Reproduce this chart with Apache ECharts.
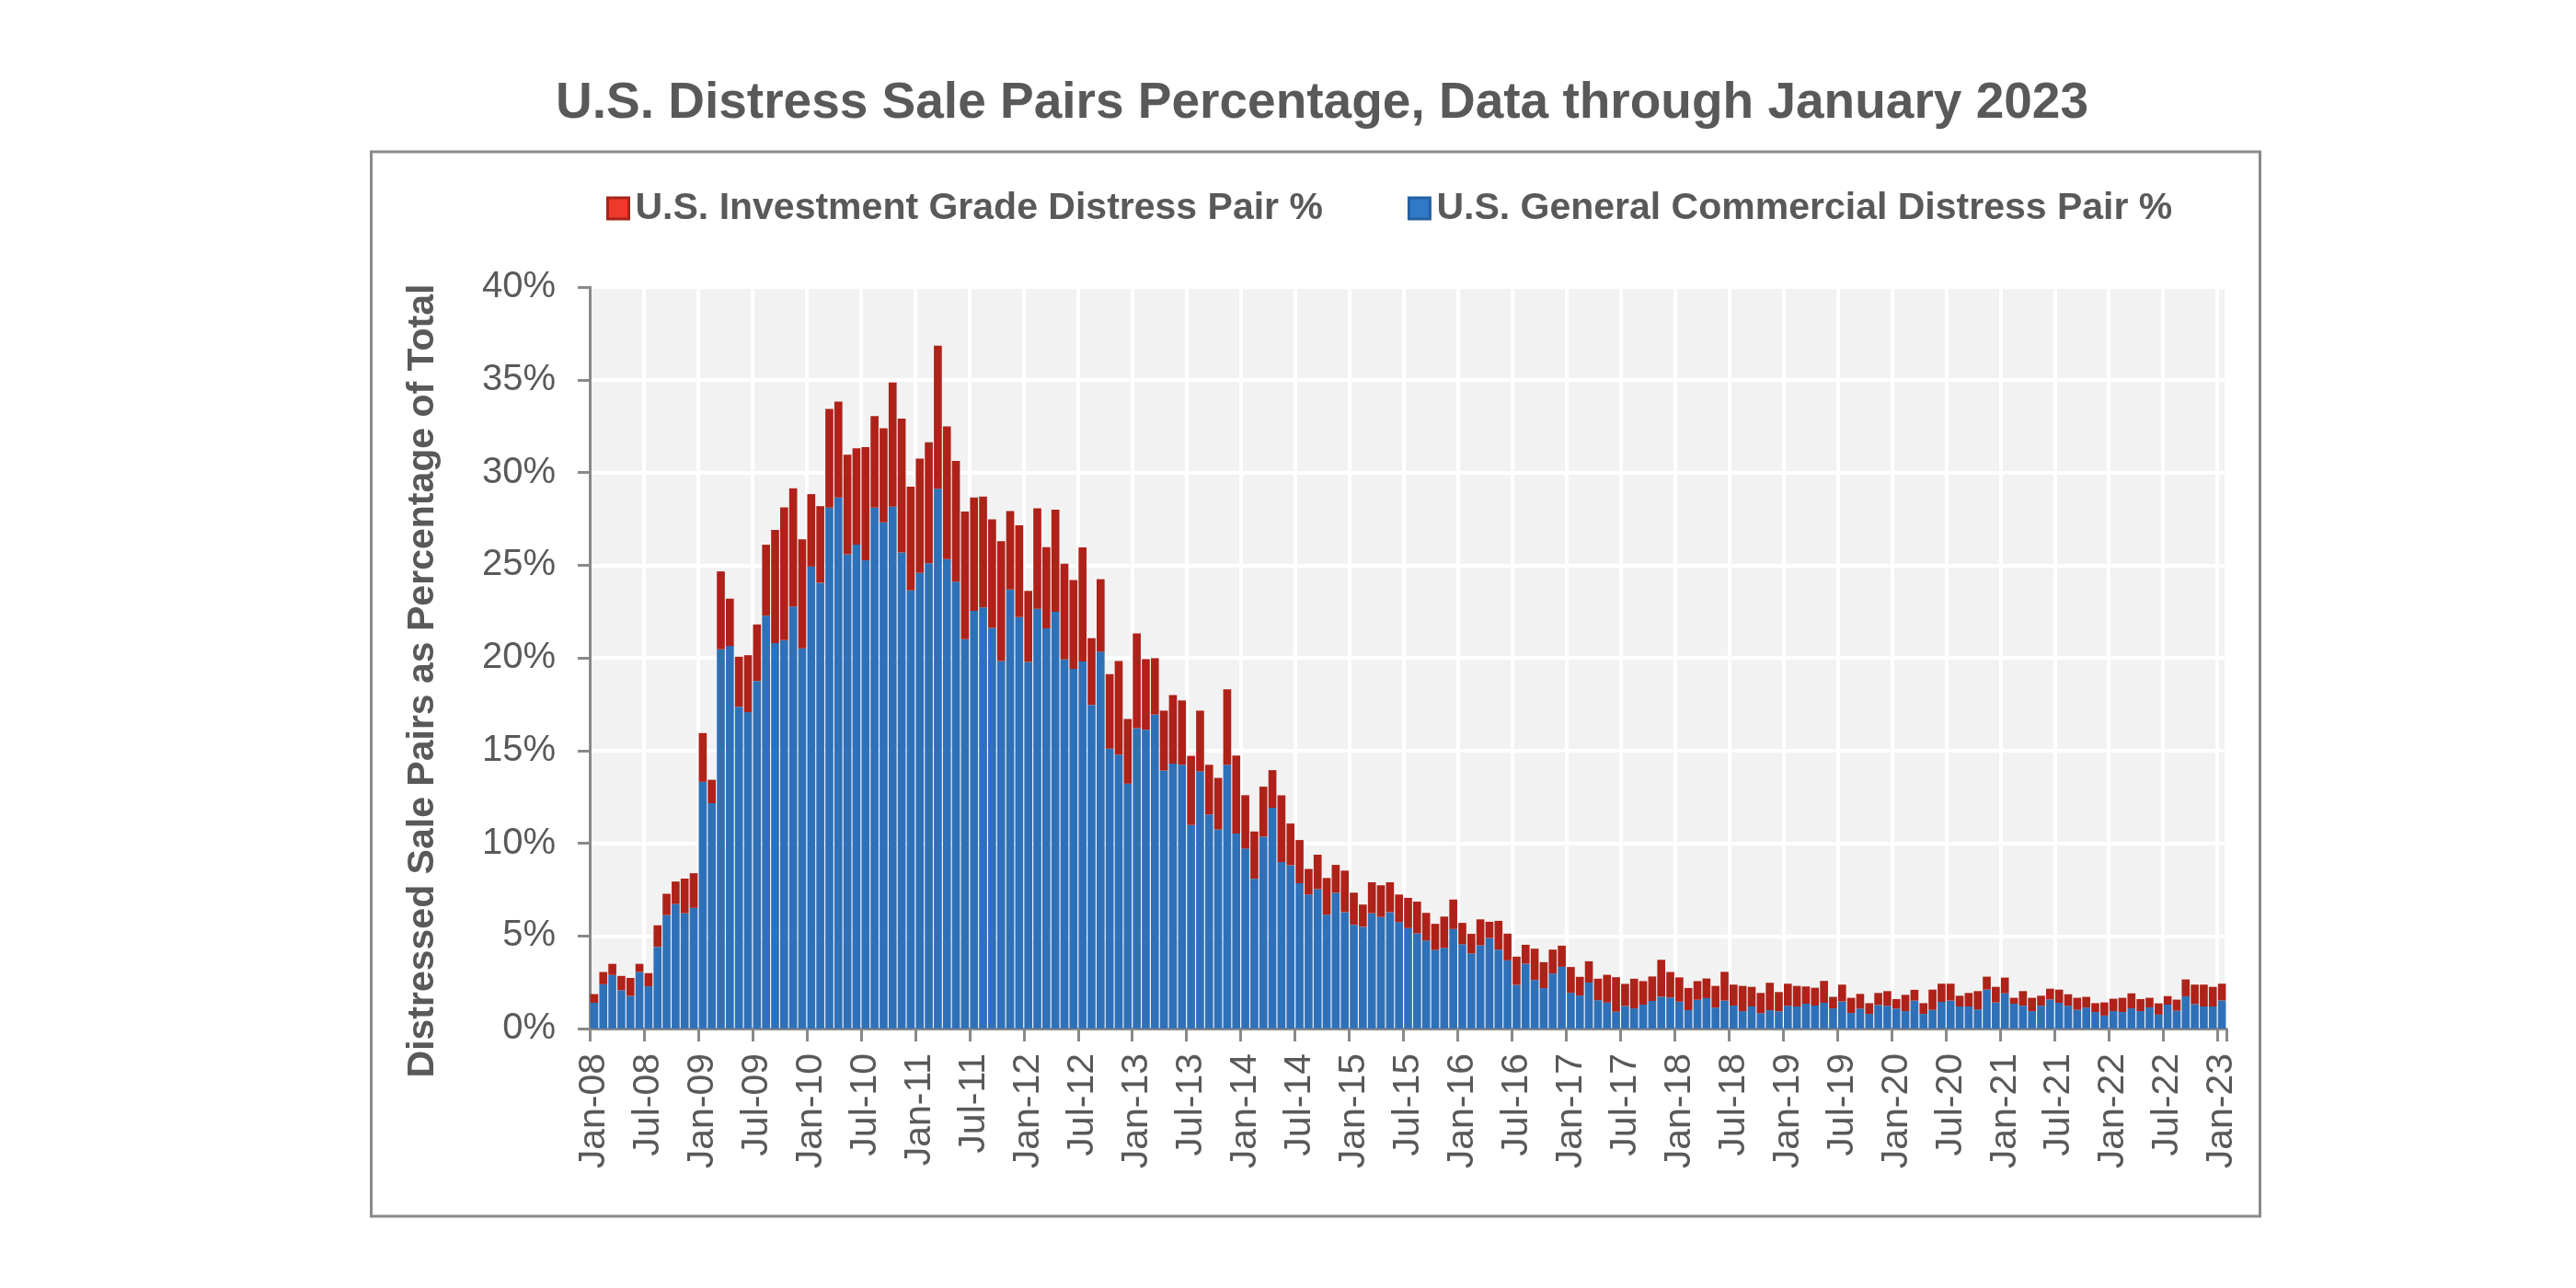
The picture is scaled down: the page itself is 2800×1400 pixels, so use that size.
<!DOCTYPE html>
<html>
<head>
<meta charset="utf-8">
<script src="https://cdn.jsdelivr.net/npm/echarts@6/dist/echarts.min.js"></script>
<style>html,body{margin:0;padding:0;background:#fff}#c{width:2800px;height:1400px}</style>
</head>
<body>
<div id="c"></div>
<script>
// ---- data ----
const monthNames = ['Jan','Feb','Mar','Apr','May','Jun','Jul','Aug','Sep','Oct','Nov','Dec'];
const firstYear = 2008;
const monthCount = 181; // Jan-08 .. Jan-23
const categories = [];
for (let i = 0; i < monthCount; i++) {
  const y = firstYear + Math.floor(i / 12);
  categories.push(monthNames[i % 12] + '-' + String(y % 100).padStart(2, '0'));
}

const generalCommercialPct = [
  1.39, 2.39, 2.89, 2.07, 1.76, 3.05, 2.28, 4.41, 6.12, 6.72, 6.22, 6.51,
  13.31, 12.16, 20.46, 20.64, 17.36, 17.07, 18.75, 22.27, 20.80, 20.96, 22.77, 20.51,
  24.92, 24.05, 28.10, 28.65, 25.58, 26.10, 25.26, 28.10, 27.31, 28.15, 25.68, 23.63,
  24.58, 25.10, 29.12, 25.32, 24.11, 21.01, 22.53, 22.72, 21.61, 19.83, 23.69, 22.19,
  19.77, 22.64, 21.59, 22.48, 19.91, 19.41, 19.80, 17.46, 20.33, 15.10, 14.78, 13.21,
  16.20, 16.12, 16.94, 13.92, 14.29, 14.23, 10.98, 13.87, 11.55, 10.74, 14.23, 10.52,
  9.71, 8.08, 10.35, 11.91, 8.98, 8.81, 7.84, 7.23, 7.52, 6.14, 7.32, 6.28,
  5.60, 5.49, 6.22, 6.02, 6.28, 5.74, 5.42, 5.13, 4.75, 4.24, 4.35, 5.37,
  4.55, 4.05, 4.49, 4.88, 4.26, 3.68, 2.36, 3.50, 2.62, 2.18, 2.97, 3.33,
  1.93, 1.78, 2.48, 1.53, 1.40, 0.91, 1.22, 1.09, 1.29, 1.49, 1.72, 1.67,
  1.45, 0.99, 1.55, 1.64, 1.13, 1.51, 1.24, 0.94, 1.19, 0.83, 0.99, 0.93,
  1.23, 1.19, 1.34, 1.24, 1.39, 1.09, 1.46, 0.84, 1.08, 0.79, 1.27, 1.23,
  1.08, 0.94, 1.51, 0.79, 1.01, 1.44, 1.51, 1.19, 1.19, 1.03, 2.10, 1.41,
  1.90, 1.34, 1.23, 0.94, 1.23, 1.57, 1.39, 1.23, 1.01, 1.13, 0.89, 0.70,
  0.94, 0.89, 1.09, 0.94, 1.14, 0.75, 1.29, 0.96, 1.74, 1.32, 1.19, 1.19,
  1.52
];

const investmentGradePct = [
  0.47, 0.66, 0.60, 0.77, 0.97, 0.44, 0.71, 1.16, 1.15, 1.21, 1.87, 1.87,
  2.63, 1.26, 4.20, 2.55, 2.70, 3.07, 3.05, 3.83, 6.10, 7.16, 6.38, 5.88,
  3.91, 4.13, 5.33, 5.17, 5.38, 5.20, 6.10, 4.94, 5.07, 6.70, 7.22, 5.60,
  6.17, 6.52, 7.72, 7.16, 6.51, 6.88, 6.12, 5.98, 5.86, 6.46, 4.22, 4.96,
  3.84, 5.43, 4.38, 5.51, 5.17, 4.78, 6.15, 3.60, 3.91, 4.02, 5.05, 3.49,
  5.12, 3.81, 3.04, 3.23, 3.70, 3.47, 3.73, 3.28, 2.68, 2.78, 4.07, 4.21,
  2.88, 2.55, 2.70, 2.03, 3.60, 2.25, 2.33, 1.38, 1.86, 1.98, 1.51, 2.24,
  1.73, 1.20, 1.67, 1.71, 1.61, 1.49, 1.63, 1.72, 1.49, 1.41, 1.69, 1.59,
  1.15, 1.06, 1.40, 0.88, 1.55, 1.44, 1.52, 1.02, 1.69, 1.40, 1.29, 1.14,
  1.39, 1.01, 1.15, 1.16, 1.50, 1.86, 1.19, 1.60, 1.27, 1.32, 1.99, 1.38,
  1.31, 1.20, 1.01, 1.06, 1.17, 1.55, 1.13, 1.36, 1.06, 1.09, 1.48, 1.04,
  1.19, 1.11, 0.93, 0.96, 1.18, 0.62, 0.91, 0.82, 0.79, 0.58, 0.65, 0.79,
  0.51, 0.88, 0.58, 0.58, 1.09, 0.98, 0.91, 0.58, 0.73, 0.99, 0.70, 0.84,
  0.85, 0.32, 0.79, 0.72, 0.54, 0.58, 0.71, 0.62, 0.65, 0.58, 0.48, 0.71,
  0.67, 0.77, 0.81, 0.65, 0.52, 0.61, 0.46, 0.60, 0.91, 1.05, 1.18, 1.06,
  0.90
];

const seriesNames = ['U.S. Investment Grade Distress Pair %', 'U.S. General Commercial Distress Pair %'];
const titleText = 'U.S. Distress Sale Pairs Percentage, Data through January 2023';
const yAxisTitle = 'Distressed Sale Pairs as Percentage of Total';
const yMin = 0, yMax = 40, yStep = 5;

// ---- styles ----
const FONT = "'Liberation Sans', Arial, Helvetica, sans-serif";
const TEXT = '#595959';
const AXIS = '#898989';
const BLUE = '#2E71B8';
const RED = '#AE2219';

const chart = echarts.init(document.getElementById('c'), null, {renderer: 'canvas'});
chart.setOption({
  animation: false,
  backgroundColor: '#ffffff',
  title: {
    text: titleText,
    left: 1432, top: 80, textAlign: 'center',
    textStyle: {fontFamily: FONT, fontSize: 55, fontWeight: 'bold', color: TEXT}
  },
  legend: {
    left: 654, top: 201,
    itemWidth: 23, itemHeight: 23, itemGap: 92,
    icon: 'rect',
    textStyle: {fontFamily: FONT, fontSize: 41, fontWeight: 'bold', color: TEXT, padding: [0, 0, 0, 2]},
    data: [
      {name: seriesNames[0], itemStyle: {color: '#EE3A2A', borderColor: '#A8231B', borderWidth: 3}},
      {name: seriesNames[1], itemStyle: {color: '#3079C6', borderColor: '#2560A2', borderWidth: 3}}
    ]
  },
  grid: {
    left: 641, right: 380, top: 312, bottom: 282,
    show: true, backgroundColor: '#F2F2F2', borderWidth: 0
  },
  xAxis: {
    type: 'category',
    data: categories,
    boundaryGap: true,
    axisLine: {show: true, lineStyle: {color: AXIS, width: 3}},
    axisTick: {show: true, interval: 5, length: 14, lineStyle: {color: AXIS, width: 3}},
    axisLabel: {interval: 5, rotate: 90, margin: 27, fontFamily: FONT, fontSize: 41, color: TEXT},
    splitLine: {show: true, interval: 5, lineStyle: {color: '#ffffff', width: 4}}
  },
  yAxis: {
    type: 'value',
    min: yMin, max: yMax, interval: yStep,
    axisLine: {show: true, lineStyle: {color: AXIS, width: 3}},
    axisTick: {show: true, length: 13, lineStyle: {color: AXIS, width: 3}},
    axisLabel: {formatter: '{value}%', margin: 37, fontFamily: FONT, fontSize: 40, color: TEXT},
    splitLine: {show: true, lineStyle: {color: '#ffffff', width: 4}}
  },
  graphic: [
    {
      type: 'rect', silent: true,
      shape: {x: 403.5, y: 165, width: 2053, height: 1157},
      style: {fill: null, stroke: AXIS, lineWidth: 3}
    },
    {
      type: 'text', silent: true,
      x: 460, y: 740, rotation: Math.PI / 2,
      style: {text: yAxisTitle, textAlign: 'center', textVerticalAlign: 'middle',
              font: 'bold 41px ' + FONT, fill: TEXT}
    }
  ],
  series: [
    {
      name: seriesNames[1], type: 'bar', stack: 'total',
      data: generalCommercialPct,
      barCategoryGap: '12%',
      itemStyle: {color: BLUE}
    },
    {
      name: seriesNames[0], type: 'bar', stack: 'total',
      data: investmentGradePct,
      barCategoryGap: '12%',
      itemStyle: {color: RED}
    }
  ]
});
</script>
</body>
</html>
